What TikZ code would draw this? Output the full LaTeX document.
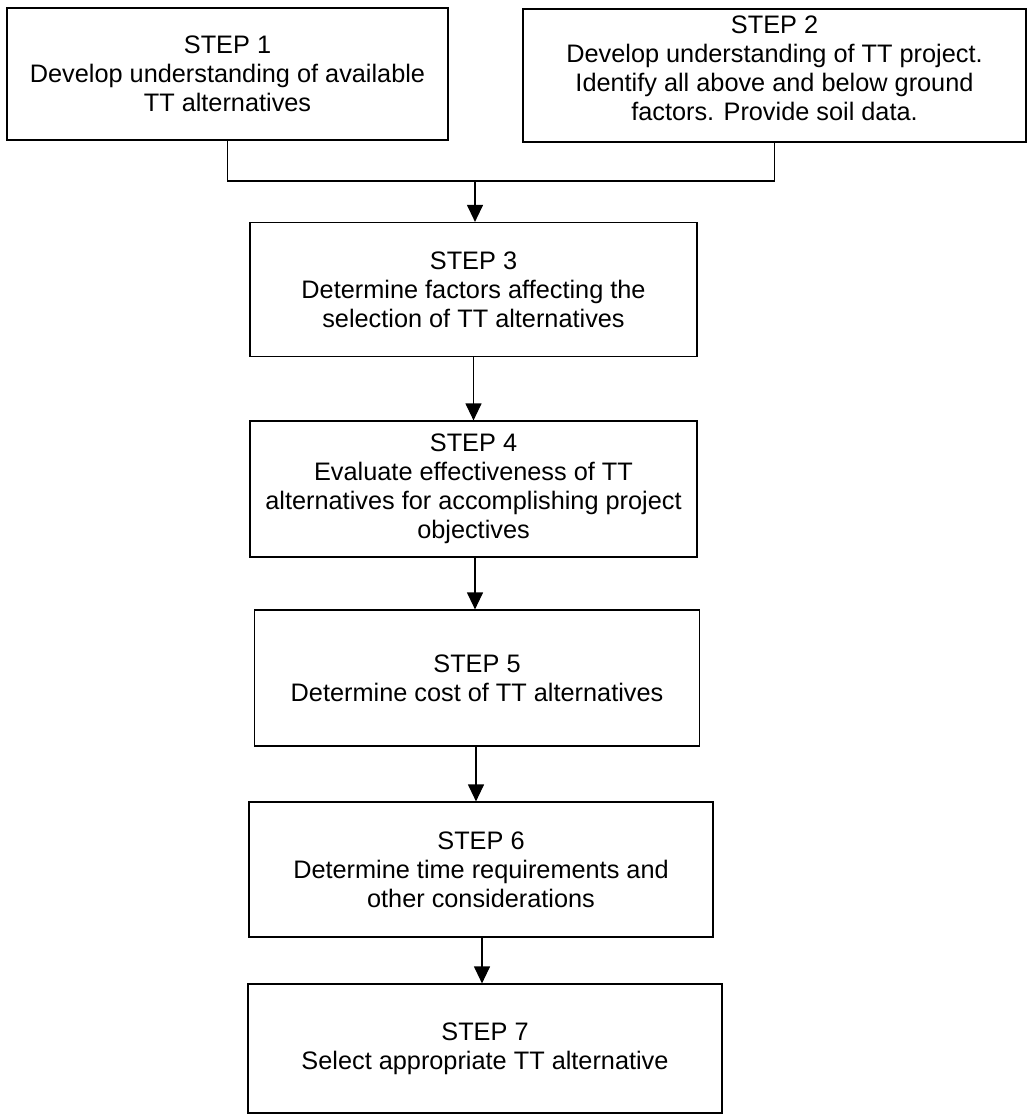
\documentclass[tikz,border=0pt]{standalone}
\usepackage{fontspec}
\setmainfont{Liberation Sans}
\usetikzlibrary{arrows.meta}
\begin{document}
\begin{tikzpicture}[x=1pt,y=-1pt,
  stepbox/.style={draw=black, line width=1.2pt, rectangle, align=center, inner sep=0pt,
    font=\fontsize{25.3}{29}\selectfont},
  conn/.style={draw=black, line width=1.2pt},
  arr/.style={conn, -{Triangle[length=17pt,width=16pt]}}]
\useasboundingbox (0,0) rectangle (1027,1116);
\node[stepbox, minimum width=441pt, minimum height=132pt] (b1) at (227.5,74)
  {STEP 1\\Develop understanding of available\\TT alternatives};
\node[stepbox, minimum width=503pt, minimum height=133pt] (b2) at (774.5,75.5)
  {STEP 2\\Develop understanding of TT project.\\Identify all above and below ground\\factors. Provide soil data.\\[-14pt]\mbox{}};
\node[stepbox, minimum width=447pt, minimum height=134pt] (b3) at (473.5,289.5)
  {STEP 3\\Determine factors affecting the\\selection of TT alternatives};
\node[stepbox, minimum width=447pt, minimum height=136pt] (b4) at (473.5,489)
  {STEP 4\\Evaluate effectiveness of TT\\alternatives for accomplishing project\\objectives};
\node[stepbox, minimum width=445pt, minimum height=136pt] (b5) at (477,678)
  {STEP 5\\Determine cost of TT alternatives};
\node[stepbox, minimum width=464pt, minimum height=135pt] (b6) at (481,869.5)
  {STEP 6\\Determine time requirements and\\other considerations};
\node[stepbox, minimum width=474pt, minimum height=129pt] (b7) at (485,1048.5)
  {STEP 7\\Select appropriate TT alternative};
\coordinate (j1) at (227.5,181);
\coordinate (j2) at (774.5,181);
\coordinate (jm) at (475,181);
\draw[conn] (b1.south) -- (j1) -- (j2) -- (b2.south);
\draw[arr] (jm) -- (jm |- b3.north);
\draw[arr] (b3.south) -- (b3.south |- b4.north);
\draw[arr] (b4.south -| 475,0) -- (475,0 |- b5.north);
\draw[arr] (b5.south -| 476,0) -- (476,0 |- b6.north);
\draw[arr] (b6.south -| 482,0) -- (482,0 |- b7.north);
\end{tikzpicture}
\end{document}
